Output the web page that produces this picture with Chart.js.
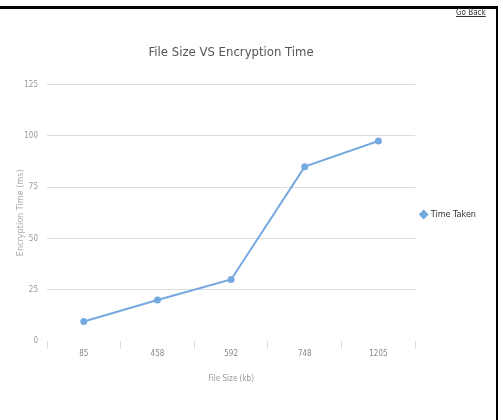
<!DOCTYPE html>
<html>
<head>
<meta charset="utf-8">
<script src="https://cdn.jsdelivr.net/npm/chart.js@4.4.1/dist/chart.umd.min.js"></script>
<style>
  html, body { margin: 0; padding: 0; background: #fff; }
  #wrap { position: relative; width: 503px; height: 420px; overflow: hidden; }
  #frameTop { position: absolute; left: 0; top: 6px; width: 498px; height: 3px; background: #000; }
  #frameRight { position: absolute; left: 496px; top: 6px; width: 2px; height: 414px; background: #000; }
  #goback { position: absolute; left: 456px; top: 8px; font: 8px "DejaVu Sans Condensed", sans-serif; color: #333; text-decoration: underline; }
  #cv { position: absolute; left: 0; top: 0; }
</style>
</head>
<body>
<div id="wrap">
  <canvas id="cv" width="503" height="420"></canvas>
  <div id="frameTop"></div>
  <div id="frameRight"></div>
  <div id="goback">Go Back</div>
</div>
<script>
const categories = ["85", "458", "592", "748", "1205"];
const timeTaken = [9.5, 20, 30, 85, 97.5];
const yTicks = [0, 25, 50, 75, 100, 125];
const seriesName = "Time Taken";

const FONT = '"DejaVu Sans Condensed", "Liberation Sans Narrow", sans-serif';

new Chart(document.getElementById('cv'), {
  type: 'line',
  data: {
    labels: categories,
    datasets: [{
      label: seriesName,
      data: timeTaken,
      borderColor: '#75a9df',
      backgroundColor: '#75a9df',
      borderWidth: 2,
      pointRadius: 2.5,
      pointHoverRadius: 2.5,
      pointStyle: 'circle',
      tension: 0
    }]
  },
  options: {
    responsive: false,
    animation: false,
    devicePixelRatio: 1,
    layout: { padding: { left: 15, right: 17, top: 45, bottom: 36 } },
    plugins: {
      title: {
        display: true,
        fullSize: false,
        text: 'File Size VS Encryption Time',
        color: '#555',
        font: { family: FONT, size: 13, weight: 'normal' },
        padding: { top: 0, bottom: 24 }
      },
      legend: {
        position: 'right',
        labels: {
          usePointStyle: true,
          pointStyle: 'rectRot',
          boxWidth: 5,
          boxHeight: 5,
          color: '#333',
          font: { family: FONT, size: 9 },
          padding: 6
        }
      },
      tooltip: { enabled: false }
    },
    scales: {
      x: {
        offset: true,
        grid: {
          display: true,
          drawOnChartArea: false,
          drawTicks: true,
          tickLength: 8,
          color: '#ddd',
          offset: true
        },
        border: { display: false },
        ticks: { color: '#888', font: { family: FONT, size: 8 }, padding: 0 },
        title: {
          display: true,
          text: 'File Size (kb)',
          color: '#999',
          font: { family: FONT, size: 8 },
          padding: { top: 3, bottom: 0 }
        },
        afterFit: (s) => { s.height = 43; }
      },
      y: {
        min: 0,
        max: 125,
        afterBuildTicks: (s) => { s.ticks = yTicks.map(v => ({ value: v })); },
        grid: {
          color: (c) => c.tick && c.tick.value === 0 ? 'rgba(0,0,0,0)' : '#dcdcdc',
          drawTicks: false,
          lineWidth: 1
        },
        border: { display: false },
        ticks: { color: '#999', font: { family: FONT, size: 8 }, padding: 9 },
        title: {
          display: true,
          text: 'Encryption Time (ms)',
          color: '#aaa',
          font: { family: FONT, size: 9 },
          padding: { top: 0, bottom: 4 }
        },
        afterFit: (s) => { s.width = 32; }
      }
    }
  }
});
</script>
</body>
</html>
